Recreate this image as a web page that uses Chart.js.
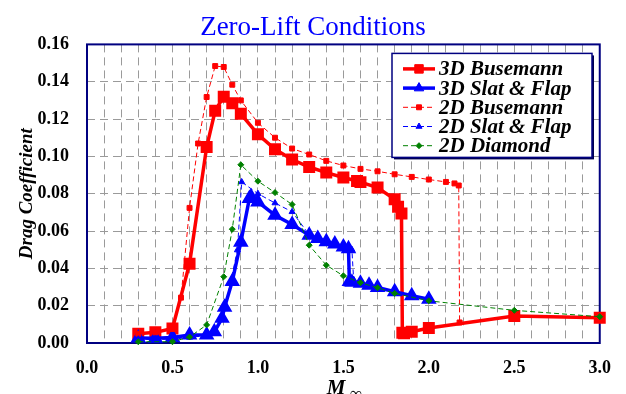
<!DOCTYPE html>
<html>
<head>
<meta charset="utf-8">
<script src="https://cdn.jsdelivr.net/npm/chart.js@4.4.1/dist/chart.umd.min.js"></script>
<style>
  body { margin: 0; background: #fff; }
  canvas { display: block; }
</style>
</head>
<body>
<canvas id="myChart" width="626" height="394"></canvas>
<script>
// values (Mach number vs drag coefficient)
var busemann3dMach = [0.3, 0.4, 0.5, 0.6, 0.7, 0.75, 0.8, 0.85, 0.9, 1.0, 1.1, 1.2, 1.3, 1.4, 1.5, 1.58, 1.6, 1.7, 1.8, 1.82, 1.84, 1.845, 1.855, 1.9, 2.0, 2.5, 3.0];
var busemann3dCd = [0.005, 0.0057, 0.0078, 0.0425, 0.105, 0.1245, 0.132, 0.1285, 0.1228, 0.1118, 0.1038, 0.0983, 0.0943, 0.0913, 0.0887, 0.0868, 0.0862, 0.0833, 0.0770, 0.0730, 0.0694, 0.0055, 0.0052, 0.006, 0.008, 0.0145, 0.0135];

var slatFlap3dMach = [0.3, 0.4, 0.5, 0.6, 0.7, 0.745, 0.79, 0.805, 0.85, 0.9, 0.95, 0.96, 1.0, 1.1, 1.2, 1.3, 1.35, 1.4, 1.45, 1.5, 1.53, 1.535, 1.55, 1.6, 1.65, 1.7, 1.8, 1.9, 2.0];
var slatFlap3dCd = [0.0027, 0.0025, 0.003, 0.0043, 0.0043, 0.006, 0.0132, 0.0192, 0.033, 0.054, 0.0774, 0.0783, 0.0756, 0.0685, 0.0635, 0.0578, 0.056, 0.0543, 0.053, 0.0515, 0.0505, 0.033, 0.0325, 0.032, 0.031, 0.0297, 0.0275, 0.0253, 0.0234];

var busemann2dMach = [0.3, 0.4, 0.5, 0.55, 0.6, 0.65, 0.7, 0.75, 0.8, 0.85, 0.9, 1.0, 1.1, 1.2, 1.3, 1.4, 1.5, 1.6, 1.7, 1.8, 1.9, 2.0, 2.1, 2.15, 2.175, 2.18];
var busemann2dCd = [0.005, 0.0057, 0.0075, 0.0243, 0.0724, 0.1069, 0.1318, 0.1484, 0.1479, 0.1384, 0.130, 0.118, 0.110, 0.1042, 0.101, 0.0976, 0.0951, 0.0933, 0.092, 0.0904, 0.089, 0.0876, 0.0863, 0.0855, 0.0844, 0.011];

var slatFlap2dMach = [0.3, 0.4, 0.5, 0.6, 0.7, 0.75, 0.81, 0.88, 0.905, 1.0, 1.1, 1.2, 1.3, 1.4, 1.5, 1.55, 1.56, 1.6, 1.7, 1.8, 1.9, 2.0];
var slatFlap2dCd = [0.002, 0.002, 0.002, 0.003, 0.004, 0.0055, 0.0194, 0.0498, 0.0863, 0.080, 0.075, 0.0703, 0.058, 0.0545, 0.0515, 0.050, 0.034, 0.033, 0.030, 0.0275, 0.025, 0.0235];

var diamond2dMach = [0.3, 0.5, 0.6, 0.7, 0.8, 0.85, 0.9, 1.0, 1.1, 1.2, 1.3, 1.4, 1.5, 1.6, 1.7, 1.8, 2.0, 2.5, 3.0];
var diamond2dCd = [0.0007, 0.0007, 0.0032, 0.0097, 0.0355, 0.061, 0.0955, 0.0867, 0.0806, 0.0742, 0.0524, 0.0417, 0.036, 0.0323, 0.0296, 0.0266, 0.0226, 0.0175, 0.0141];

var yTicks = [0, 0.02, 0.04, 0.06, 0.08, 0.10, 0.12, 0.14, 0.16];

function pairs(xs, ys) {
  return xs.map(function (x, i) { return { x: x, y: ys[i] }; });
}

var SERIF = "'Liberation Serif', 'Times New Roman', serif";

// plot frame, drawn under the data
var framePlugin = {
  id: 'frame',
  beforeDatasetsDraw: function (chart) {
    var a = chart.chartArea, ctx = chart.ctx;
    ctx.save();
    ctx.strokeStyle = '#000080';
    ctx.lineWidth = 2;
    ctx.strokeRect(a.left, a.top, a.right - a.left, a.bottom - a.top);
    ctx.restore();
  }
};

// boxed legend inside the plot + the M-infinity axis title
var legendPlugin = {
  id: 'boxLegend',
  afterDraw: function (chart) {
    var ctx = chart.ctx, a = chart.chartArea;
    var left = a.left + 305, top = a.top + 9, w = 200, h = 104;
    ctx.save();
    ctx.fillStyle = '#000050';
    ctx.fillRect(left + 2, top + 2, w, h);
    ctx.fillStyle = '#fff';
    ctx.fillRect(left, top, w, h);
    ctx.strokeStyle = '#000080';
    ctx.lineWidth = 1.5;
    ctx.strokeRect(left, top, w, h);

    chart.data.datasets.forEach(function (ds, i) {
      var y = top + 15.5 + i * 19.2;
      ctx.strokeStyle = ds.borderColor;
      ctx.lineWidth = ds.borderWidth;
      ctx.setLineDash(ds.borderDash || []);
      ctx.beginPath();
      ctx.moveTo(left + 11, y);
      ctx.lineTo(left + 43, y);
      ctx.stroke();
      ctx.setLineDash([]);
      ctx.fillStyle = ds.pointBackgroundColor;
      ctx.strokeStyle = ds.borderColor;
      ctx.lineWidth = 1;
      Chart.helpers.drawPoint(ctx, { pointStyle: ds.pointStyle, radius: ds.pointRadius, rotation: 0, borderWidth: 1 }, left + 27, y);
      ctx.fillStyle = '#000';
      ctx.font = 'italic bold 21px ' + SERIF;
      ctx.textBaseline = 'middle';
      ctx.textAlign = 'left';
      ctx.fillText(ds.label, left + 47, y + 1);
    });

    // x axis title: M with subscript infinity
    var cx = (a.left + a.right) / 2;
    ctx.fillStyle = '#000';
    ctx.textBaseline = 'alphabetic';
    ctx.font = 'italic bold 21px ' + SERIF;
    ctx.textAlign = 'right';
    ctx.fillText('M', cx + 2, 394);
    ctx.font = 'italic bold 17px ' + SERIF;
    ctx.textAlign = 'left';
    ctx.fillText('\u221E', cx + 6, 399);
    ctx.restore();
  }
};

var ctx = document.getElementById('myChart').getContext('2d');
var chart = new Chart(ctx, {
  type: 'line',
  data: {
    datasets: [
      {
        label: '3D Busemann',
        data: pairs(busemann3dMach, busemann3dCd),
        borderColor: '#ff0000', backgroundColor: '#ff0000', pointBackgroundColor: '#ff0000',
        borderWidth: 3.5, pointStyle: 'rect', pointRadius: 6, order: 4
      },
      {
        label: '3D Slat & Flap',
        data: pairs(slatFlap3dMach, slatFlap3dCd),
        borderColor: '#0000ff', backgroundColor: '#0000ff', pointBackgroundColor: '#0000ff',
        borderWidth: 3.5, pointStyle: 'triangle', pointRadius: 5.5, order: 3
      },
      {
        label: '2D Busemann',
        data: pairs(busemann2dMach, busemann2dCd),
        borderColor: '#ff0000', backgroundColor: '#ff0000', pointBackgroundColor: '#ff0000',
        borderWidth: 1, borderDash: [5, 3], pointStyle: 'rect', pointRadius: 3.5, order: 2
      },
      {
        label: '2D Slat & Flap',
        data: pairs(slatFlap2dMach, slatFlap2dCd),
        borderColor: '#0000ff', backgroundColor: '#0000ff', pointBackgroundColor: '#0000ff',
        borderWidth: 1, borderDash: [5, 3], pointStyle: 'triangle', pointRadius: 3.5, order: 1
      },
      {
        label: '2D Diamond',
        data: pairs(diamond2dMach, diamond2dCd),
        borderColor: '#008000', backgroundColor: '#008000', pointBackgroundColor: '#008000',
        borderWidth: 1, borderDash: [5, 3], pointStyle: 'rectRot', pointRadius: 3, order: 0
      }
    ]
  },
  options: {
    responsive: false,
    animation: false,
    clip: false,
    layout: { padding: { top: 0, right: 0, left: 0, bottom: 0 } },
    elements: { line: { tension: 0, fill: false } },
    plugins: {
      legend: { display: false },
      tooltip: { enabled: false },
      title: {
        display: true,
        text: 'Zero-Lift Conditions',
        color: '#0000ff',
        font: { family: SERIF, size: 27, weight: 'normal' },
        padding: { top: 12, bottom: 0 }
      }
    },
    scales: {
      x: {
        type: 'linear',
        min: 0, max: 3,
        afterFit: function (scale) { scale.height = 51; },
        ticks: {
          stepSize: 0.1,
          autoSkip: false,
          maxRotation: 0,
          padding: 15,
          color: '#000',
          font: { family: SERIF, size: 18, weight: 'bold' },
          callback: function (v) {
            var r = Math.round(v * 10);
            return r % 5 === 0 ? (r / 10).toFixed(1) : '';
          }
        },
        grid: { color: '#9a9a9a', lineWidth: 1, drawTicks: false },
        border: { display: false, dash: [8, 5] }
      },
      y: {
        type: 'linear',
        min: 0, max: 0.16,
        afterFit: function (scale) { scale.width = 87; },
        afterBuildTicks: function (scale) {
          scale.ticks = yTicks.map(function (v) { return { value: v }; });
        },
        ticks: {
          padding: 18,
          color: '#000',
          font: { family: SERIF, size: 18, weight: 'bold' },
          callback: function (v) { return Number(v).toFixed(2); }
        },
        title: {
          display: true,
          text: 'Drag Coefficient',
          color: '#000',
          font: { family: SERIF, size: 19, weight: 'bold', style: 'italic' },
          padding: { top: 16, bottom: 0 }
        },
        grid: { color: '#9a9a9a', lineWidth: 1, drawTicks: false },
        border: { display: false, dash: [8, 5] }
      },
      // empty right-hand axis that only keeps the right margin
      yRight: {
        type: 'linear',
        position: 'right',
        min: 0, max: 0.16,
        afterFit: function (scale) { scale.width = 23; },
        ticks: { display: false },
        grid: { display: false, drawTicks: false },
        border: { display: false }
      }
    }
  },
  plugins: [framePlugin, legendPlugin]
});
</script>
</body>
</html>
